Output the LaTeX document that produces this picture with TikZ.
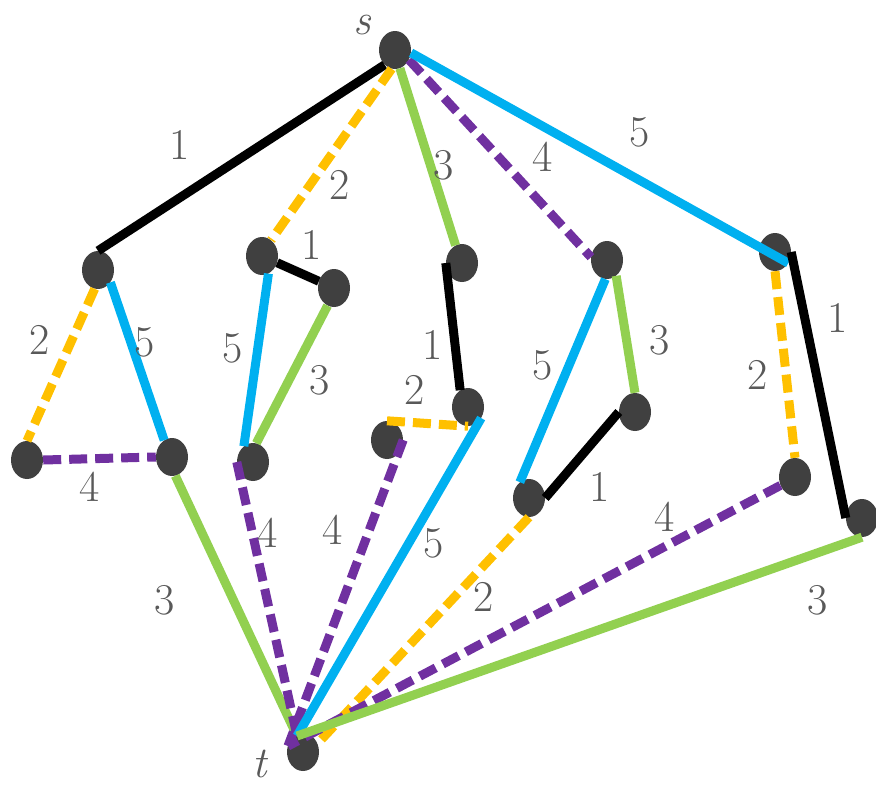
\documentclass[tikz,border=0pt]{standalone}
\usetikzlibrary{shapes.geometric}
\definecolor{nodegray}{HTML}{404040}
\definecolor{labelgray}{HTML}{595959}
\definecolor{cOrange}{HTML}{FFC000}
\definecolor{cGreen}{HTML}{92D050}
\definecolor{cBlue}{HTML}{00B0F0}
\definecolor{cPurple}{HTML}{7030A0}
\begin{document}
\begin{tikzpicture}[x=1pt,y=-1pt,
  vtx/.style={ellipse, fill=nodegray, minimum width=32pt, minimum height=38pt, inner sep=0pt},
  ln/.style={line width=9pt},
  dsh/.style={ln, dash pattern=on 18pt off 8pt},
  lbl/.style={text=labelgray, font=\fontsize{44}{48}\selectfont, inner sep=0pt},
  term/.style={text=labelgray, font=\fontsize{44}{48}\selectfont\itshape, inner sep=1pt},
]
\useasboundingbox (0,0) rectangle (876,785);
% vertices
\node[vtx] (s) at (395,50) {};
\node[vtx] (A) at (98,270) {};
\node[vtx] (B) at (27,460) {};
\node[vtx] (C) at (172,457) {};
\node[vtx] (D) at (262,256) {};
\node[vtx] (E) at (334,288) {};
\node[vtx] (F) at (253,462) {};
\node[vtx] (G) at (462,263) {};
\node[vtx] (H) at (468,407) {};
\node[vtx] (I) at (387,440) {};
\node[vtx] (J) at (607,260) {};
\node[vtx] (K) at (635,412) {};
\node[vtx] (L) at (529,498) {};
\node[vtx] (M) at (775,252) {};
\node[vtx] (N) at (795,477) {};
\node[vtx] (O) at (862,518) {};
\node[vtx] (t) at (303,752) {};
\coordinate (tc) at (297,736);
\coordinate (tl) at (288,746);
\node[term] (slab) at (362,25) {s};
\node[term] (tlab) at (260,764) {t};
% edges
\draw[ln, black] (s.235) -- (A.north);
\draw[dsh, cOrange] (s.-100) -- (D.60);
\draw[ln, cGreen] (s.-75) -- (G.110);
\draw[dsh, cPurple] (s.-35) -- (J.170);
\draw[ln, cBlue] (s.-10) -- (M.-40);
\draw[dsh, cOrange] (A.-100) -- (B.north);
\draw[ln, cBlue] (A.-45) -- (C.115);
\draw[dsh, cPurple] (B.east) -- (C.west);
\draw[ln, cGreen] (C.-80) -- (tc);
\draw[ln, black] (D) -- (E);
\draw[ln, cBlue] (D.-70) -- (F.120);
\draw[ln, cGreen] (E.-110) -- (F.80);
\draw[dsh, cPurple] (F.180) -- (tc);
\draw[ln, black] (G.180) -- (H.115);
\draw[dsh, cOrange] (I.north) -- (H.south);
\draw[dsh, cPurple] (I.east) -- (tl);
\draw[ln, cBlue] (H.-40) -- (tc);
\draw[ln, cBlue] (J.-95) -- (L.120);
\draw[ln, cGreen] (J.-60) -- (K.north);
\draw[ln, black] (K.west) -- (L.east);
\draw[dsh, cOrange] (L.south) -- (t.30);
\draw[dsh, cOrange] (M.south) -- (N.north);
\draw[ln, black] (M.east) -- (O.west);
\draw[dsh, cPurple] (N.210) -- (tl);
\draw[ln, cGreen] (O.-90) -- (tc);
% weights
\node[lbl] (w1) at (180,145) {1};
\node[lbl] (w2) at (340,185) {2};
\node[lbl] (w3) at (444,165) {3};
\node[lbl] (w4) at (543,157) {4};
\node[lbl] (w5) at (640,132) {5};
\node[lbl] (w6) at (40,340) {2};
\node[lbl] (w7) at (145,342) {5};
\node[lbl] (w8) at (90,487) {4};
\node[lbl] (w9) at (165,600) {3};
\node[lbl] (w10) at (312,245) {1};
\node[lbl] (w11) at (233,348) {5};
\node[lbl] (w12) at (320,380) {3};
\node[lbl] (w13) at (268,533) {4};
\node[lbl] (w14) at (433,345) {1};
\node[lbl] (w15) at (415,390) {2};
\node[lbl] (w16) at (333,530) {4};
\node[lbl] (w17) at (434,543) {5};
\node[lbl] (w18) at (543,365) {5};
\node[lbl] (w19) at (660,340) {3};
\node[lbl] (w20) at (600,487) {1};
\node[lbl] (w21) at (484,597) {2};
\node[lbl] (w22) at (758,375) {2};
\node[lbl] (w23) at (838,318) {1};
\node[lbl] (w24) at (665,517) {4};
\node[lbl] (w25) at (818,600) {3};
\end{tikzpicture}
\end{document}
